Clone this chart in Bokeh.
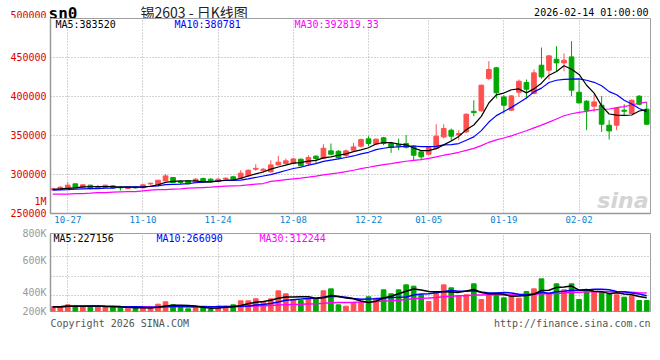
from bokeh.plotting import figure
from bokeh.layouts import column
from bokeh.models import Range1d, FixedTicker, Label, ColumnDataSource
from bokeh.embed import file_html
from bokeh.resources import INLINE

# ---------------- data ----------------
dates = ["10-23", "10-24", "10-27", "10-28", "10-29", "10-30", "10-31",
         "11-03", "11-04", "11-05", "11-06", "11-07", "11-10", "11-11", "11-12", "11-13", "11-14",
         "11-17", "11-18", "11-19", "11-20", "11-21", "11-24", "11-25", "11-26", "11-27", "11-28",
         "12-01", "12-02", "12-03", "12-04", "12-05", "12-08", "12-09", "12-10", "12-11", "12-12",
         "12-15", "12-16", "12-17", "12-18", "12-19", "12-22", "12-23", "12-24", "12-25", "12-26",
         "12-29", "12-30", "12-31",
         "01-05", "01-06", "01-07", "01-08", "01-09", "01-12", "01-13", "01-14", "01-15", "01-16",
         "01-19", "01-20", "01-21", "01-22", "01-23", "01-26", "01-27", "01-28", "01-29", "01-30",
         "02-02", "02-03", "02-04", "02-05", "02-06", "02-09", "02-10", "02-11", "02-12", "02-13"]

open_ = [280300, 281200, 282000, 288000, 283700, 286300, 283300, 283300, 285400, 283800,
         282000, 283700, 282900, 288000, 286300, 291800, 296100, 291000, 292300, 289700,
         294800, 294000, 291000, 294400, 297000, 295700, 298200, 306800, 304700, 303400,
         312300, 314100, 314100, 319600, 314100, 323500, 320500, 330300, 329800, 324300,
         331200, 336300, 345700, 338900, 347000, 339700, 338900, 339700, 336300, 329000,
         326000, 333300, 348200, 356800, 350800, 354600, 381000, 381600, 423000, 436700,
         399500, 382400, 405500, 417900, 403800, 440100, 433700, 447800, 443100, 450800,
         405500, 394000, 387600, 388800, 363200, 363200, 382400, 378200, 400400, 383700]
high = [282900, 285000, 290100, 288400, 288000, 286700, 286700, 286700, 286300, 285000,
        283700, 284600, 288000, 289300, 293100, 300400, 296500, 291800, 292700, 295300,
        296100, 295300, 295700, 296100, 298200, 305500, 306400, 313200, 308100, 318300,
        323900, 320500, 321300, 320500, 324700, 324700, 338800, 339700, 331200, 332000,
        340500, 346100, 349100, 346100, 348200, 341800, 346100, 350400, 337600, 331200,
        335400, 364500, 364500, 358900, 356800, 378200, 395200, 415300, 445300, 438000,
        401700, 401700, 421800, 421800, 434600, 462800, 452900, 464500, 455100, 470900,
        420900, 395200, 402900, 400400, 369600, 385900, 390100, 396100, 401700, 393100]
low = [279500, 280700, 281200, 282500, 283300, 280700, 281600, 283000, 282000, 279500,
       281600, 282000, 282500, 286700, 285900, 291400, 289300, 287600, 287600, 289300,
       289700, 289700, 290600, 293500, 292700, 295300, 297400, 304700, 302100, 302500,
       311900, 312800, 313200, 309800, 310700, 314100, 320500, 324700, 319600, 322600,
       330300, 334600, 336300, 337600, 337600, 327700, 331200, 333300, 317500, 318300,
       324700, 332000, 346100, 343100, 344000, 353400, 374700, 380700, 420900, 397400,
       378200, 381600, 399500, 397400, 403000, 423000, 421800, 431600, 432400, 400400,
       391000, 356800, 380300, 354600, 344800, 356800, 374700, 377300, 388800, 363200]
close = [281600, 283700, 286300, 282900, 286700, 282000, 284600, 286300, 282900, 282900,
         283300, 282900, 286700, 288800, 292700, 298200, 289700, 289700, 288000, 294000,
         291000, 290600, 294000, 295300, 294000, 301700, 305500, 307900, 306800, 312300,
         315800, 317500, 320000, 311100, 321700, 320500, 333700, 326000, 321500, 330300,
         335400, 344800, 339700, 345300, 339700, 334600, 336300, 334600, 324700, 322600,
         334600, 349100, 358900, 349100, 352500, 377300, 379400, 414500, 434600, 404700,
         388800, 400800, 419600, 409400, 430300, 425200, 452100, 443100, 446500, 408100,
         391800, 382400, 393100, 364500, 355900, 384600, 381100, 395200, 390100, 364500]
volume = [82000, 82000, 117000, 93000, 93000, 93000, 93000, 76000, 76000, 58000,
          58000, 58000, 76000, 58000, 128000, 169000, 117000, 70000, 47000, 70000,
          70000, 35000, 93000, 93000, 117000, 187000, 187000, 222000, 163000, 222000,
          361000, 309000, 210000, 192000, 222000, 222000, 361000, 396000, 117000, 93000,
          152000, 163000, 257000, 233000, 379000, 309000, 379000, 466000, 443000, 292000,
          175000, 350000, 466000, 414000, 268000, 292000, 484000, 210000, 292000, 292000,
          239000, 292000, 233000, 350000, 396000, 571000, 309000, 484000, 379000, 484000,
          210000, 367000, 338000, 338000, 309000, 292000, 251000, 268000, 192000, 192000]

# moving-average values for the first bars (history before the window)
ma5_head = [281000, 281500, 282200, 282800]
ma10_head = [279900, 280300, 280700, 281200, 281600, 282000, 282000, 282400, 282400]
ma30_head = [274740, 274740, 274740, 275595, 275595, 276022, 276877, 276877, 277304, 277732,
             278159, 278159, 279014, 279868, 280723, 280723, 281151, 281578, 282433, 282860,
             283287, 283715, 284570, 284997, 285424, 285852, 286707, 287561, 288416]

tick_dates = ["10-27", "11-10", "11-24", "12-08", "12-22", "01-05", "01-19", "02-02"]
price_ticks = [250000, 300000, 350000, 400000, 450000, 500000]
price_ma_text = ["MA5:383520", "MA10:380781", "MA30:392819.33"]
vol_ma_text = ["MA5:227156", "MA10:266090", "MA30:312244"]
vol_labels = ["200K", "400K", "600K", "800K", "1M"]
symbol = "sn0"
name = "锡2603 - 日K线图"
stamp = "2026-02-14 01:00:00"
copyright_text = "Copyright 2026 SINA.COM"
url_text = "http://finance.sina.com.cn"


def moving(vals, n, head=None):
    out = []
    for i in range(len(vals)):
        if head is not None and i < len(head):
            out.append(head[i])
        else:
            w = vals[max(0, i - n + 1):i + 1]
            out.append(sum(w) / len(w))
    return out


RED = "#ff5050"
GREEN = "#00a800"
MONO = "DejaVu Sans Mono"
GRID = "#a8a8a8"
W = 660

x = list(range(len(dates)))
colors = [RED if c >= o else GREEN for o, c in zip(open_, close)]
src = ColumnDataSource(dict(
    x=x, o=open_, h=high, l=low, c=close,
    top=[max(o, c) for o, c in zip(open_, close)],
    bot=[min(o, c) for o, c in zip(open_, close)],
    color=colors, vol=volume,
    ma5=moving(close, 5, ma5_head), ma10=moving(close, 10, ma10_head), ma30=moving(close, 30, ma30_head),
    vma5=moving(volume, 5), vma10=moving(volume, 10), vma30=moving(volume, 30),
))
ticks = [dates.index(d) for d in tick_dates]


def lab(fig, x_, y_, text, color="#000000", size="10px", align="left", font=MONO, style="normal",
        baseline="middle"):
    fig.add_layout(Label(x=x_, y=y_, x_units="screen", y_units="screen", text=text,
                         text_color=color, text_font_size=size, text_align=align,
                         text_baseline=baseline, text_font=font, text_font_style=style))


def strip(height):
    s = figure(width=W, height=height, x_range=Range1d(0, W), y_range=Range1d(0, height),
               x_axis_location=None, y_axis_location=None, output_backend="svg",
               toolbar_location=None, min_border_left=0, min_border_right=0,
               min_border_top=0, min_border_bottom=0, frame_align=False)
    s.outline_line_color = None
    s.grid.visible = False
    s.background_fill_color = "white"
    s.border_fill_color = "white"
    return s


# ---------------- header strip ----------------
h = strip(18)
lab(h, 48, 5, symbol, size="16px", style="bold")
lab(h, 140, 7, name, color="#222222", size="14px", font="Noto Sans CJK SC")
lab(h, 648, 6, stamp, align="right")
lab(h, 46, 3.2, str(price_ticks[-1]), color="#e00000", align="right")

# ---------------- price panel ----------------
p = figure(width=W, height=208, x_range=Range1d(-0.3, 79.5), y_range=Range1d(250000, 500000),
           output_backend="svg", toolbar_location=None,
           min_border_left=50, min_border_right=10, min_border_top=0, min_border_bottom=13)
p.outline_line_color = "#a0a0a0"
p.background_fill_color = "white"
p.border_fill_color = "white"

p.xgrid.ticker = FixedTicker(ticks=ticks)
p.ygrid.ticker = FixedTicker(ticks=price_ticks[1:-1])
for g in (p.xgrid, p.ygrid):
    g.grid_line_color = GRID
    g.grid_line_dash = "1 2"

# the volume panel's top label "1M" overflows into the price panel's axis
one_m_pos = 266000
p.yaxis.ticker = FixedTicker(ticks=price_ticks[:-1] + [one_m_pos])
overrides = {v: str(v) for v in price_ticks[:-1]}
overrides[one_m_pos] = vol_labels[4]
p.yaxis.major_label_overrides = overrides
p.xaxis.ticker = FixedTicker(ticks=ticks)
p.xaxis.major_label_overrides = {i: d for i, d in zip(ticks, tick_dates)}
for ax in (p.xaxis, p.yaxis):
    ax.major_tick_line_color = None
    ax.minor_tick_line_color = None
    ax.major_tick_out = 0
    ax.major_tick_in = 0
    ax.axis_line_color = "#999999"
    ax.axis_line_width = 1.5
    ax.major_label_text_font = MONO
p.yaxis.major_label_text_font_size = "10px"
p.yaxis.major_label_text_color = "#e00000"
p.yaxis.major_label_standoff = 4
p.xaxis.major_label_text_font_size = "9px"
p.xaxis.major_label_text_color = "#0a82d2"
p.xaxis.major_label_standoff = 2

p.segment(x0="x", y0="l", x1="x", y1="h", color="color", line_width=1, source=src)
p.vbar(x="x", top="top", bottom="bot", width=0.62, fill_color="color", line_color="color",
       line_width=1, source=src)
p.line(x="x", y="ma30", color="#ff00ff", line_width=1.2, source=src)
p.line(x="x", y="ma10", color="#0000ff", line_width=1.2, source=src)
p.line(x="x", y="ma5", color="#000000", line_width=1.2, source=src)

lab(p, 5, 189.5, price_ma_text[0], color="#000000")
lab(p, 124, 189.5, price_ma_text[1], color="#0000ff")
lab(p, 244, 189.5, price_ma_text[2], color="#ff00ff")
lab(p, 598, 1, "sina", color="#d4d4d4", size="22px", align="right", font="DejaVu Sans",
    style="bold italic", baseline="bottom")

# ---------------- volume panel ----------------
v_top = 1365000
v = figure(width=W, height=91, x_range=p.x_range, y_range=Range1d(0, v_top),
           x_axis_location=None, output_backend="svg", toolbar_location=None,
           min_border_left=50, min_border_right=10, min_border_top=7, min_border_bottom=6)
v.outline_line_color = "#a0a0a0"
v.background_fill_color = "white"
v.border_fill_color = "white"
v.xgrid.ticker = FixedTicker(ticks=ticks)
v.ygrid.ticker = FixedTicker(ticks=[280000, 612000, 969000])
for g in (v.xgrid, v.ygrid):
    g.grid_line_color = GRID
    g.grid_line_dash = "1 2"
vol_label_pos = [0, 336000, 887000, v_top]
v.yaxis.ticker = FixedTicker(ticks=vol_label_pos)
v.yaxis.major_label_overrides = {pos: t for pos, t in zip(vol_label_pos, vol_labels[:4])}
v.yaxis.major_tick_line_color = None
v.yaxis.minor_tick_line_color = None
v.yaxis.major_tick_out = 0
v.yaxis.major_tick_in = 0
v.yaxis.axis_line_color = "#999999"
v.yaxis.axis_line_width = 1.5
v.yaxis.major_label_text_font = MONO
v.yaxis.major_label_text_font_size = "10px"
v.yaxis.major_label_text_color = "#999999"
v.yaxis.major_label_standoff = 4

v.vbar(x="x", top="vol", bottom=0, width=0.62, fill_color="color", line_color="color",
       line_width=1, source=src)
v.line(x="x", y="vma30", color="#ff00ff", line_width=1.5, source=src)
v.line(x="x", y="vma10", color="#0000ff", line_width=1.5, source=src)
v.line(x="x", y="vma5", color="#000000", line_width=1.5, source=src)

lab(v, 3, 73, vol_ma_text[0], color="#000000")
lab(v, 106, 73, vol_ma_text[1], color="#0000ff")
lab(v, 209, 73, vol_ma_text[2], color="#ff00ff")

# ---------------- footer strip ----------------
f = strip(43)
lab(f, 50, 37, copyright_text, color="#555555")
lab(f, 650, 37, url_text, color="#555555", align="right")

layout = column(h, p, v, f, spacing=0)
open("out.html", "w").write(file_html(layout, INLINE))
